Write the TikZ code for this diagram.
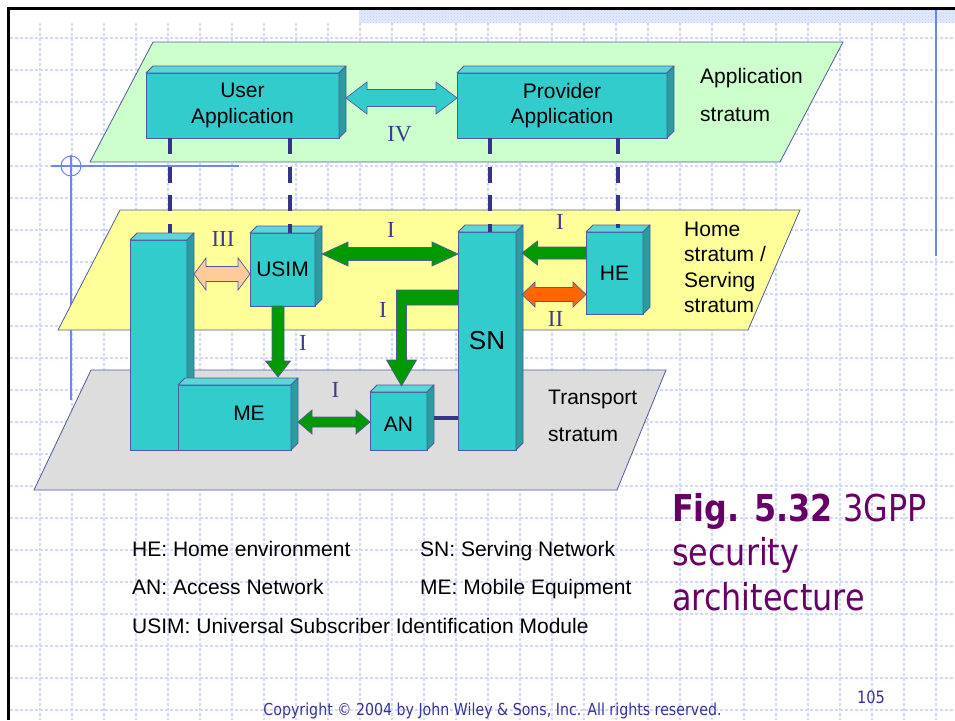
\documentclass[tikz,border=0pt]{standalone}
\usepackage{fontspec}
\setmainfont{Liberation Sans}
\newfontfamily\numfont{Liberation Serif}
\newfontfamily\tahfont[FakeStretch=0.86]{DejaVu Sans}
\usetikzlibrary{calc,patterns}
\definecolor{boxfront}{HTML}{33CCCC}
\definecolor{boxtop}{HTML}{5CD6D6}
\definecolor{boxside}{HTML}{2A9E9E}
\definecolor{edge}{HTML}{505AA0}
\definecolor{connc}{HTML}{34348A}
\definecolor{grn}{HTML}{009900}
\definecolor{peach}{HTML}{FFCC99}
\definecolor{orng}{HTML}{FF6600}
\definecolor{appc}{HTML}{CCFFCC}
\definecolor{homec}{HTML}{FFFF99}
\definecolor{transc}{HTML}{DDDDDD}
\definecolor{numc}{HTML}{3C3C8C}
\definecolor{titlec}{HTML}{660066}
\definecolor{copyc}{HTML}{333399}
\definecolor{gridc}{HTML}{D0D9F7}
\definecolor{crossc}{HTML}{6E87F0}
\definecolor{bandc}{HTML}{E2E9FC}
\definecolor{banddot}{HTML}{C2D0F6}
\newcommand\boxfaces[2]{%
  \filldraw[face, fill=boxtop] (#1.north west) -- ++(#2,-#2) -- ($(#1.north east)+(#2,-#2)$) -- (#1.north east) -- cycle;
  \filldraw[face, fill=boxside] (#1.north east) -- ++(#2,-#2) -- ($(#1.south east)+(#2,-#2)$) -- (#1.south east) -- cycle;}
\newcommand\hdarr[6]{%
  \filldraw[#1] let \p1=#2, \p2=#3 in (\x1,\y1) -- (\x1+#6,\y1+#5) -- (\x1+#6,\y1+#4) -- (\x2-#6,\y1+#4) -- (\x2-#6,\y1+#5) -- (\x2,\y1) -- (\x2-#6,\y1-#5) -- (\x2-#6,\y1-#4) -- (\x1+#6,\y1-#4) -- (\x1+#6,\y1-#5) -- cycle;}
\newcommand\lsarr[6]{%
  \filldraw[#1] let \p1=#2, \p2=#3 in (\x1,\y1) -- (\x1+#6,\y1+#5) -- (\x1+#6,\y1+#4) -- (\x2,\y1+#4) -- (\x2,\y1-#4) -- (\x1+#6,\y1-#4) -- (\x1+#6,\y1-#5) -- cycle;}
\newcommand\dnarr[6]{%
  \filldraw[#1] let \p1=#2, \p2=#3 in (\x1-#4,\y1) -- (\x1-#4,\y2+#6) -- (\x1-#5,\y2+#6) -- (\x1,\y2) -- (\x1+#5,\y2+#6) -- (\x1+#4,\y2+#6) -- (\x1+#4,\y1) -- cycle;}
\begin{document}
\begin{tikzpicture}[x=1pt,y=-1pt,
  gridline/.style={draw=gridc, line width=1.2pt, dash pattern=on 3pt off 2pt},
  stratum/.style={draw=edge, line width=0.8pt},
  cube/.style={draw=edge, fill=boxfront, line width=0.8pt, inner sep=0pt, outer sep=0pt, align=center, font=\fontsize{21}{25.5}\selectfont},
  face/.style={draw=edge, line width=0.8pt, line join=round},
  blk/.style={draw=edge, line width=0.7pt, line join=miter},
  dashconn/.style={draw=connc, line width=4pt, dash pattern=on 16pt off 12.5pt},
  solidconn/.style={draw=connc, line width=4pt},
  roman/.style={text=numc, font=\numfont\fontsize{23}{26}\selectfont, inner sep=0pt, anchor=base},
  lbl/.style={font=\fontsize{21}{25}\selectfont, inner sep=0pt, anchor=base west},
  ttl/.style={anchor=base west, inner sep=0pt, text=titlec, font=\tahfont\fontsize{37}{44}\selectfont},
]
\useasboundingbox (0,0) rectangle (955,720);
\fill[white] (0,0) rectangle (955,720);
% background grid
\foreach \gx in {40,72,...,936} \draw[gridline] (\gx,23) -- (\gx,720);
\foreach \gy in {38,70,...,710} \draw[gridline] (10,\gy) -- (955,\gy);
% top band
\fill[bandc] (359,10.3) rectangle (955,23);
\fill[pattern=crosshatch dots, pattern color=banddot] (359,10.3) rectangle (955,23);
% slide guides
\draw[crossc, line width=2pt] (936,10) -- (936,256);
\draw[crossc, line width=2pt] (51,166) -- (239,166);
\draw[crossc, line width=2.5pt] (71,155) -- (71,400);
\draw[crossc, line width=1pt] (71,166) circle[radius=10];
% strata
\filldraw[stratum, fill=appc] (153,42) -- (843,42) -- (780,162) -- (90,162) -- cycle;
\filldraw[stratum, fill=homec] (120,210) -- (800,210) -- (748,330) -- (58,330) -- cycle;
\filldraw[stratum, fill=transc] (91,370) -- (666,370) -- (617,490) -- (34,490) -- cycle;
% boxes
\node[cube, minimum width=193pt, minimum height=65pt] (ua) at (242.5,105.5) {User\\Application};
\boxfaces{ua}{7}
\node[cube, minimum width=210pt, minimum height=65pt] (pa) at (562,105.5) {Provider\\Application};
\boxfaces{pa}{7}
\node[cube, minimum width=57pt, minimum height=210pt] (meleft) at (158.5,345) {};
\boxfaces{meleft}{7}
\node[cube, minimum width=113pt, minimum height=65pt] (me) at (234.5,417.5) {};
\boxfaces{me}{7}
\node[cube, minimum width=65pt, minimum height=73pt] (usim) at (282.5,269.5) {USIM};
\boxfaces{usim}{7}
\node[cube, minimum width=57pt, minimum height=58pt] (an) at (398.5,421) {};
\boxfaces{an}{7}
\node[cube, minimum width=58pt, minimum height=218pt, font=\fontsize{26}{30}\selectfont] (sn) at (487,341) {SN};
\boxfaces{sn}{7}
\node[cube, minimum width=57pt, minimum height=82pt] (he) at (614.5,273) {HE};
\boxfaces{he}{7}
\node[lbl, anchor=base] (melbl) at (249,420) {ME};
\node[lbl, anchor=base] (anlbl) at (398.5,431.7) {AN};
% dashed links between strata
\coordinate (xa) at (170,0);
\coordinate (xb) at (290,0);
\coordinate (xc) at (490,0);
\coordinate (xd) at (618,0);
\draw[dashconn] (ua.south -| xa) -- ($(meleft.north -| xa)+(0,-7)$);
\draw[dashconn] (ua.south -| xb) -- (usim.north -| xb);
\draw[dashconn] (pa.south -| xc) -- (sn.north -| xc);
\draw[dashconn] (pa.south -| xd) -- ($(he.north -| xd)+(0,-4)$);
% AN - SN link
\draw[solidconn] ($(an.east)+(7,-3)$) -- ($(an.east -| sn.west)+(0,-3)$);
% block arrows
\hdarr{blk, fill=boxfront}{($(ua.east)+(7,-7.5)$)}{(pa.west)}{8.5}{16}{21}
\hdarr{blk, fill=peach}{($(meleft.east)+(7,-71)$)}{(usim.west)}{7.5}{16}{12}
\hdarr{blk, fill=grn}{($(usim.east)+(7,-15.5)$)}{(sn.west)}{6.5}{12}{26}
\lsarr{blk, fill=grn}{($(sn.east)+(6,-88)$)}{(he.west)}{6}{12}{15.5}
\hdarr{blk, fill=orng}{($(sn.east)+(6,-46.5)$)}{(he.west)}{7}{12.5}{13}
\hdarr{blk, fill=grn}{($(me.east)+(7,4.5)$)}{(an.west)}{5}{12}{14}
\dnarr{blk, fill=grn}{($(usim.south)+(-4.5,0)$)}{($(me.north)+(0,-8)$)}{6}{12.5}{16}
\filldraw[blk, fill=grn] let \p1=($(sn.west)+(0,-43.5)$), \p2=($(an.north)+(3,-6)$) in
  (\x1,\y1+7.5) -- (\x2-5,\y1+7.5) -- (\x2-5,\y2+26) -- (\x2-15,\y2+26) -- (\x2,\y2)
  -- (\x2+15,\y2+26) -- (\x2+5,\y2+26) -- (\x2+5,\y1-7.5) -- (\x1,\y1-7.5) -- cycle;
% roman numerals
\node[roman] (rIV) at (399.5,141.7) {IV};
\node[roman] (rIII) at (223,246) {III};
\node[roman] (rIa) at (391,237.7) {I};
\node[roman] (rIb) at (560,229.3) {I};
\node[roman] (rII) at (555.5,326) {II};
\node[roman] (rIc) at (383,317.3) {I};
\node[roman] (rId) at (303,350) {I};
\node[roman] (rIe) at (335.5,397.3) {I};
% stratum labels
\node[lbl] (apl1) at (700,83.3) {Application};
\node[lbl] (apl2) at (700,121.7) {stratum};
\node[lbl] (hs1) at (684,236) {Home};
\node[lbl] (hs2) at (684,261) {stratum /};
\node[lbl] (hs3) at (684,287) {Serving};
\node[lbl] (hs4) at (684,312.7) {stratum};
\node[lbl] (tr1) at (548,404) {Transport};
\node[lbl] (tr2) at (548,441.7) {stratum};
% legend
\node[lbl] (lg1) at (132,556) {HE: Home environment};
\node[lbl] (lg2) at (420,556) {SN: Serving Network};
\node[lbl] (lg3) at (132,594) {AN: Access Network};
\node[lbl] (lg4) at (420,594) {ME: Mobile Equipment};
\node[lbl] (lg5) at (132,633) {USIM: Universal Subscriber Identification Module};
% title
\node[ttl] (t1) at (672,521.7) {\textbf{Fig. 5.32} 3GPP};
\node[ttl] (t2) at (672,565) {security};
\node[ttl] (t3) at (672,610) {architecture};
% footer
\node[anchor=base, inner sep=0pt, text=copyc, font=\tahfont\fontsize{16.5}{18}\selectfont] (copy) at (492.5,715.5) {Copyright © 2004 by John Wiley \& Sons, Inc. All rights reserved.};
\node[anchor=base, inner sep=0pt, text=copyc, font=\tahfont\fontsize{17}{19}\selectfont] (pg) at (871,703) {105};
% slide frame
\draw[black, line width=3.5pt] (8.5,720) -- (8.5,8.5) -- (955,8.5);
\end{tikzpicture}
\end{document}
